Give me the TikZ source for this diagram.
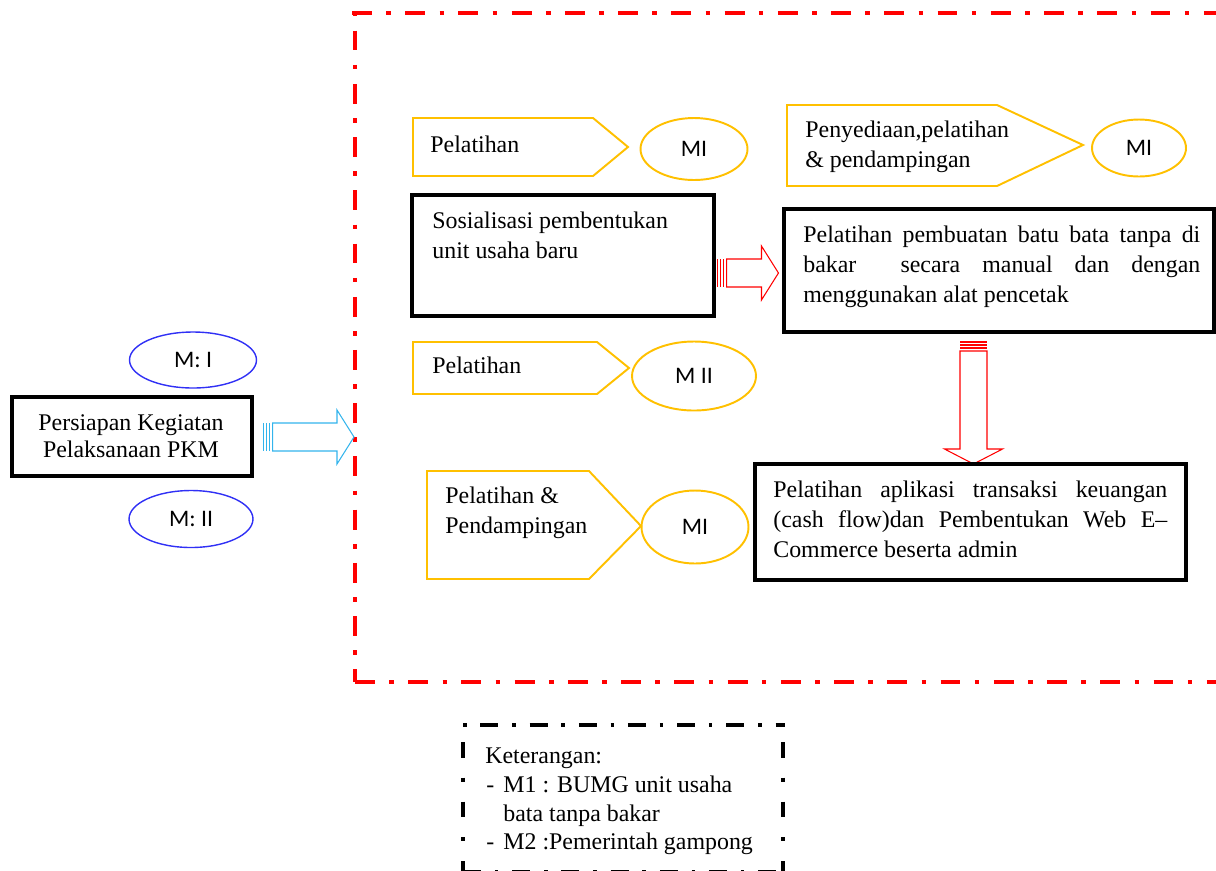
\documentclass[tikz,border=0pt]{standalone}
\usepackage{fontspec}
\setmainfont{Liberation Serif}
\newfontfamily\calibri{Carlito}
\usetikzlibrary{calc,shapes.geometric}
\definecolor{gold}{HTML}{FFC000}
\definecolor{skyblue}{HTML}{33B4EC}
\definecolor{ovalblue}{HTML}{3030F5}

% panah blok bergaris: #1 pangkal, #2 ujung, #3 warna
\newcommand{\blockright}[3]{%
  \draw[#3,line width=0.6pt] ($(#1)+(9,-14)$) -- ($(#2)+(-17,-14)$) -- ($(#2)+(-17,-27)$) -- (#2)
    -- ($(#2)+(-17,27)$) -- ($(#2)+(-17,14)$) -- ($(#1)+(9,14)$) -- cycle;
  \foreach \k in {0,3,6} \draw[#3,line width=0.9pt] ($(#1)+(\k,-14)$) -- ($(#1)+(\k,14)$);
}
\newcommand{\blockdown}[3]{%
  \draw[#3,line width=0.6pt] ($(#1)+(-13.5,9)$) -- ($(#2)+(-13.5,-15)$) -- ($(#2)+(-29,-15)$) -- (#2)
    -- ($(#2)+(29,-15)$) -- ($(#2)+(13.5,-15)$) -- ($(#1)+(13.5,9)$) -- cycle;
  \foreach \k in {0,3,6} \draw[#3,line width=0.9pt] ($(#1)+(-13.5,\k)$) -- ($(#1)+(13.5,\k)$);
}

\begin{document}
\begin{tikzpicture}[x=0.02cm,y=-0.02cm,
  txt/.style={inner sep=0pt,font=\fontsize{13.6}{17}\selectfont},
  justtxt/.style={txt,anchor=north west,align=justify,text width=#1},
  kotak/.style={draw,line width=1.8pt,inner sep=0pt},
  mitra/.style={ellipse,draw=#1,inner sep=0pt,font=\calibri\fontsize{13.5}{16}\selectfont},
  tag/.style={draw=gold,line width=1.1pt,line join=miter},
  bingkai/.style={red,line width=2.8pt,dash pattern=on 11.3pt off 8.2pt on 2.6pt off 8.2pt},
  ket/.style={line width=2.3pt}]

\useasboundingbox (0,0) rectangle (1216,870);
\clip (0,0) rectangle (1216,870);

% bingkai merah
\draw[bingkai] (352,13) -- (1230,13);
\draw[bingkai,dash phase=-10pt] (355,13) -- (355,682);
\draw[bingkai] (355,682) -- (1230,682);

% persiapan
\node[kotak,minimum width=4.8cm,minimum height=1.58cm] (persiapan) at (132,436.5) {};
\node[txt,anchor=north,align=center,font=\fontsize{13.6}{15.4}\selectfont] (tpers) at (131,411)
  {\strut Persiapan Kegiatan\\Pelaksanaan PKM};
\node[mitra=ovalblue,line width=0.8pt,minimum width=2.54cm,minimum height=1.12cm] (mI) at (193,360) {M: I};
\node[mitra=ovalblue,line width=0.8pt,minimum width=2.48cm,minimum height=1.14cm] (mII) at (191,519) {M: II};
\coordinate (cyS) at ($(persiapan.east)+(10,0.5)$);
\coordinate (cyE) at (354,437);
\blockright{cyS}{cyE}{skyblue}

% baris atas
\draw[tag] (413,118) -- (593,118) -- (628,147) -- (593,176) -- (413,176) -- cycle;
\node[txt,anchor=base west] (tpel1) at (430,152) {Pelatihan};
\node[mitra=gold,line width=1.1pt,minimum width=2.14cm,minimum height=1.24cm] (e1) at (694,149) {MI};

\draw[tag] (787,105) -- (997,105) -- (1083,145) -- (997,186) -- (787,186) -- cycle;
\node[txt,anchor=north west,align=left] (tpeny) at (805,116) {\strut Penyediaan,pelatihan\\\& pendampingan};
\node[mitra=gold,line width=1.1pt,minimum width=1.88cm,minimum height=1.14cm] (e2) at (1139,148) {MI};

% sosialisasi dan pembuatan batu bata
\node[kotak,minimum width=6.04cm,minimum height=2.42cm] (sosial) at (563,255.5) {};
\node[txt,anchor=north west,align=left] (tsos) at (432,207) {\strut Sosialisasi pembentukan\\unit usaha baru};
\node[kotak,minimum width=8.6cm,minimum height=2.46cm] (batubata) at (999,270.5) {};
\node[justtxt=7.94cm] (tbata) at (803,221)
  {\tolerance=9999\hyphenpenalty=10000\strut Pelatihan pembuatan batu bata tanpa di\linebreak
   bakar\ \ secara manual dan dengan\linebreak menggunakan alat pencetak};
\coordinate (rS) at ($(sosial.east)+(2,17.5)$);
\coordinate (rE) at ($(batubata.west)+(-4,2.5)$);
\blockright{rS}{rE}{red}

% baris tengah
\draw[tag] (413,342) -- (597,342) -- (629,368) -- (597,394) -- (413,394) -- cycle;
\node[txt,anchor=base west] (tpel2) at (432,373) {Pelatihan};
\node[mitra=gold,line width=1.1pt,minimum width=2.48cm,minimum height=1.38cm] (e3) at (694,376) {M II};

\coordinate (dS) at (973.5,342);
\coordinate (dE) at (973.5,464);
\blockdown{dS}{dE}{red}

% baris bawah
\draw[tag] (427,471) -- (589,471) -- (641,526) -- (589,579) -- (427,579) -- cycle;
\node[txt,anchor=north west,align=left] (tpend) at (445,482) {\strut Pelatihan \&\\Pendampingan};
\node[mitra=gold,line width=1.1pt,minimum width=2.14cm,minimum height=1.46cm] (e4) at (695,527) {MI};
\node[kotak,minimum width=8.62cm,minimum height=2.32cm] (aplikasi) at (970.5,522) {};
\node[justtxt=7.88cm] (tapl) at (773,476)
  {\tolerance=9999\hyphenpenalty=10000\strut Pelatihan aplikasi transaksi keuangan\linebreak
   (cash flow)dan Pembentukan Web E--\linebreak Commerce beserta admin};

% keterangan
\draw[ket,dash pattern=on 2pt off 7.9pt on 10.2pt off 7.9pt] (463,725) -- (785,725);
\draw[ket,dash pattern=on 9pt off 11.3pt on 2.3pt off 11.3pt] (463,742) -- (463,880);
\draw[ket,dash pattern=on 9pt off 11.3pt on 2.3pt off 11.3pt] (783,742) -- (783,880);
\draw[ket,dash pattern=on 10.2pt off 7.9pt on 2pt off 7.9pt] (463,872) -- (785,872);
\node[txt,anchor=base west] (tket) at (485,763) {Keterangan:};
\node[txt,anchor=base west] (d1) at (486,792) {-};
\node[txt,anchor=north west,align=left,font=\fontsize{13.6}{16.5}\selectfont] (tm1) at (503,771.6)
  {\strut M1 : BUMG unit usaha\\bata tanpa bakar};
\node[txt,anchor=base west] (d2) at (486,849) {-};
\node[txt,anchor=base west] (tm2) at (503,849) {M2 :Pemerintah gampong};
\end{tikzpicture}
\end{document}
